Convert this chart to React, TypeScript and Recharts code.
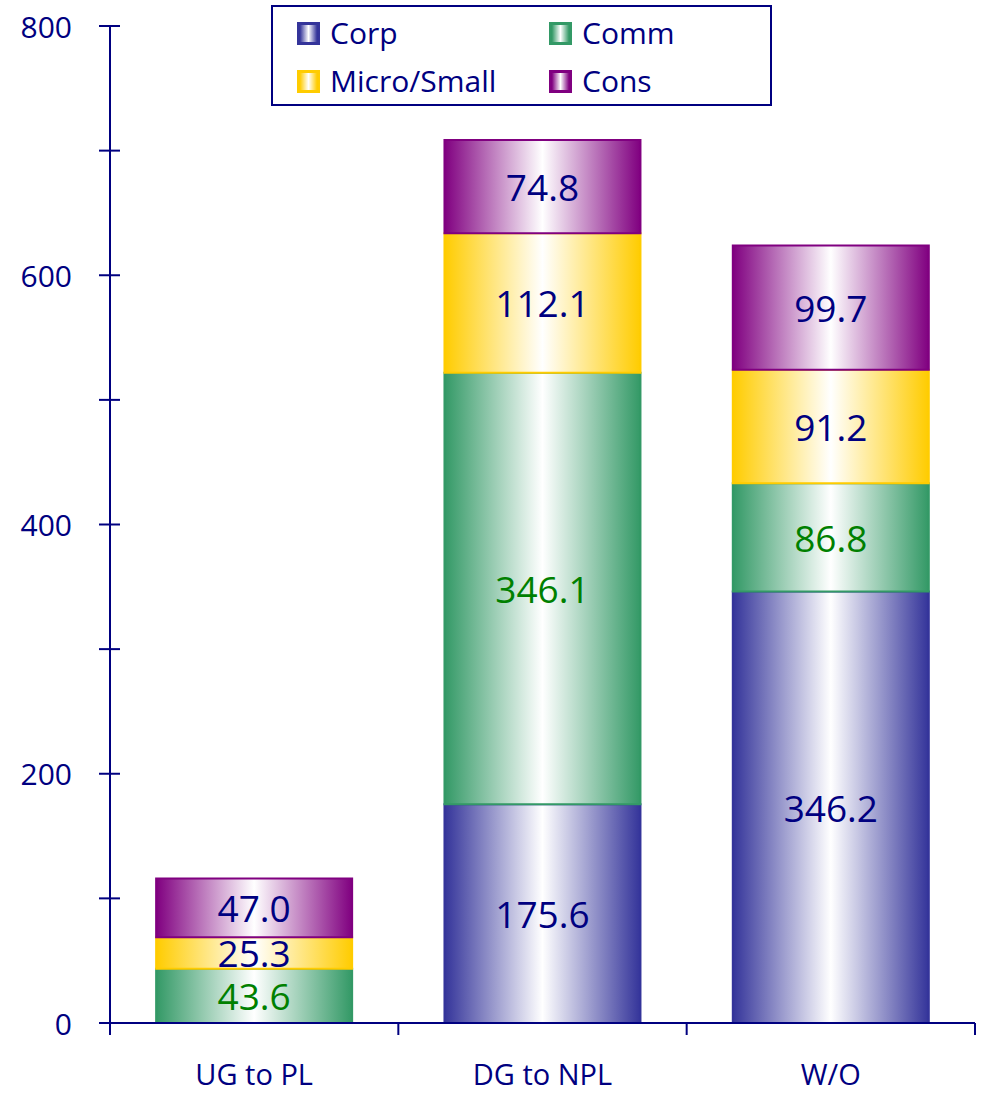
import { BarChart, Bar, XAxis, YAxis, LabelList } from 'recharts'

const CATEGORIES = ['UG to PL', 'DG to NPL', 'W/O']
const CORP = [0, 175.6, 346.2]
const COMM = [43.6, 346.1, 86.8]
const MICRO_SMALL = [25.3, 112.1, 91.2]
const CONS = [47.0, 74.8, 99.7]
const Y_TICKS = [0, 100, 200, 300, 400, 500, 600, 700, 800]

const NAVY = '#000080'
const FONT = '"Open Sans", "Noto Sans", sans-serif'

const W = 981
const H = 1094
const X_AXIS_H = 30
const MARGIN = { top: 26, right: 6, bottom: 71 - X_AXIS_H, left: 0 }
const Y_AXIS_W = 110

const SERIES = [
  { key: 'corp', name: 'Corp', edge: '#34349a', text: NAVY },
  { key: 'comm', name: 'Comm', edge: '#339966', text: '#008000' },
  { key: 'micro', name: 'Micro/Small', edge: '#ffcc00', text: NAVY },
  { key: 'cons', name: 'Cons', edge: '#800080', text: NAVY },
]

const data = CATEGORIES.map((name, i) => ({
  name,
  corp: CORP[i],
  comm: COMM[i],
  micro: MICRO_SMALL[i],
  cons: CONS[i],
}))

const bandWidth = (W - Y_AXIS_W - MARGIN.right) / CATEGORIES.length

function YTick({ x, y, payload }: any) {
  const v = payload.value
  return (
    <g>
      <line x1={x - 11} x2={x + 10} y1={y} y2={y} stroke={NAVY} strokeWidth={2} />
      {v % 200 === 0 && (
        <text x={x - 38} y={y} textAnchor="end" dominantBaseline="central" fill={NAVY} fontSize={30} fontFamily={FONT}>
          {v}
        </text>
      )}
    </g>
  )
}

function XTick({ x, y, payload, index }: any) {
  const left = x - bandWidth / 2
  const right = x + bandWidth / 2
  return (
    <g>
      <line x1={left} x2={left} y1={y - 2} y2={y + 10} stroke={NAVY} strokeWidth={2} />
      {index === CATEGORIES.length - 1 && (
        <line x1={right} x2={right} y1={y - 2} y2={y + 10} stroke={NAVY} strokeWidth={2} />
      )}
      <text x={x} y={y + 48} textAnchor="middle" dominantBaseline="central" fill={NAVY} fontSize={29} fontFamily={FONT}>
        {payload.value}
      </text>
    </g>
  )
}

function valueLabel(color: string) {
  return (props: any) => {
    const { x, y, width, height, value } = props
    if (!value) return null
    return (
      <text
        x={x + width / 2}
        y={y + height / 2}
        textAnchor="middle"
        dominantBaseline="central"
        fill={color}
        fontSize={37}
        fontFamily={FONT}
      >
        {Number(value).toFixed(1)}
      </text>
    )
  }
}

// boxed two-column legend sitting over the top of the plot
function LegendBox() {
  return (
    <div
      style={{
        position: 'absolute',
        top: 5,
        left: 271,
        boxSizing: 'border-box',
        width: 501,
        height: 101,
        border: `2px solid ${NAVY}`,
        background: '#fff',
        display: 'grid',
        gridTemplateColumns: '252px 230px',
        padding: '2px 0 0 24px',
      }}
    >
      {SERIES.map((s) => (
        <div key={s.key} style={{ display: 'flex', alignItems: 'center', height: 48 }}>
          <span
            style={{
              display: 'inline-block',
              width: 17,
              height: 17,
              border: `3px solid ${s.edge}`,
              background: `linear-gradient(to right, ${s.edge}, #ffffff, ${s.edge})`,
              marginRight: 10,
            }}
          />
          <span style={{ color: NAVY, fontSize: 30, fontFamily: FONT, lineHeight: 1 }}>{s.name}</span>
        </div>
      ))}
    </div>
  )
}

export default function App() {
  return (
    <div style={{ position: 'absolute', left: 0, top: 0, width: W, height: H, background: '#fff' }}>
      <BarChart width={W} height={H} data={data} margin={MARGIN} barCategoryGap="16%">
        <defs>
          {SERIES.map((s) => (
            <linearGradient key={s.key} id={`grad-${s.key}`} x1="0" y1="0" x2="1" y2="0">
              <stop offset="0%" stopColor={s.edge} />
              <stop offset="50%" stopColor="#ffffff" />
              <stop offset="100%" stopColor={s.edge} />
            </linearGradient>
          ))}
        </defs>
        <XAxis
          dataKey="name"
          height={X_AXIS_H}
          axisLine={{ stroke: NAVY, strokeWidth: 2 }}
          tickLine={false}
          tickSize={0}
          tickMargin={2}
          tick={<XTick />}
          interval={0}
        />
        <YAxis
          width={Y_AXIS_W}
          domain={[0, 800]}
          ticks={Y_TICKS}
          interval={0}
          axisLine={{ stroke: NAVY, strokeWidth: 2 }}
          tickLine={false}
          tickSize={0}
          tickMargin={0}
          tick={<YTick />}
        />
        {SERIES.map((s) => (
          <Bar
            key={s.key}
            dataKey={s.key}
            name={s.name}
            stackId="a"
            fill={`url(#grad-${s.key})`}
            stroke={s.edge}
            strokeWidth={2}
            isAnimationActive={false}
          >
            <LabelList dataKey={s.key} content={valueLabel(s.text)} />
          </Bar>
        ))}
      </BarChart>
      <LegendBox />
    </div>
  )
}
